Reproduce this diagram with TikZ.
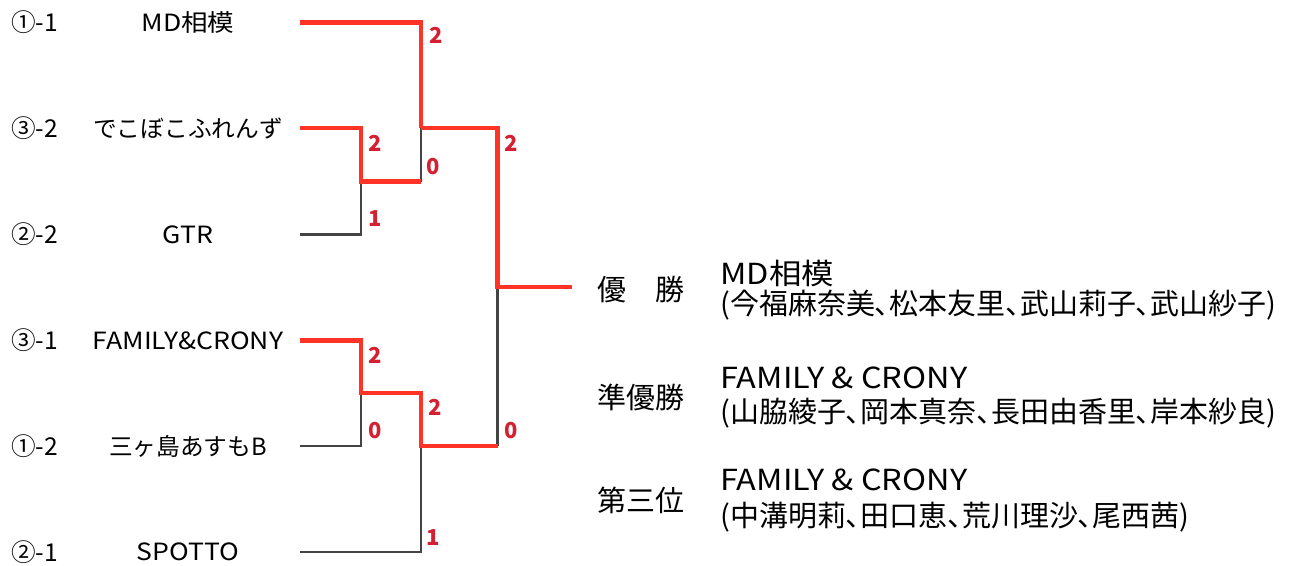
\documentclass[tikz,border=0pt]{standalone}
\usepackage{fontspec}
\setmainfont{Noto Sans CJK JP}
\newfontfamily\paltfont[RawFeature=+palt]{Noto Sans CJK JP}
\newfontfamily\widefont[FakeStretch=1.12]{Noto Sans CJK JP}
\usetikzlibrary{positioning, calc}

\definecolor{winred}{HTML}{FF3326}
\definecolor{losegray}{HTML}{444444}
\definecolor{scorered}{HTML}{D42030}

\begin{document}
\begin{tikzpicture}[x=0.02cm, y=-0.02cm, every node/.style={inner sep=0pt}]

                    \useasboundingbox (0, 0) rectangle (1300, 565);
                    \tikzset{
                        seed/.style={anchor=west, font=\fontsize{14}{16}\selectfont},
                        team/.style={font=\widefont\fontsize{13.5}{16}\selectfont},
                        teamjp/.style={font=\fontsize{13.5}{16}\selectfont},
                        win/.style={draw=winred, line width=2.5pt},
                        lose/.style={draw=losegray, line width=1.15pt},
                        score/.style={text=scorered, font=\bfseries\fontsize{12.5}{14}\selectfont},
                        prize/.style={font=\fontsize{16.5}{20}\selectfont},
                        result/.style={anchor=west, font=\paltfont\fontsize{16.5}{20}\selectfont},
                        latin/.style={anchor=west, font=\widefont\fontsize{16.5}{20}\selectfont}
                    }

                    % entries
                    \node [seed] (S1) at (11, 22.5) {①-1};
                    \node [team] (T1) at (188, 22.5) {MD相模};
                    \node [seed] (S2) at (11, 128) {③-2};
                    \node [teamjp] (T2) at (188, 128) {でこぼこふれんず};
                    \node [seed] (S3) at (11, 234.5) {②-2};
                    \node [team] (T3) at (188, 234.5) {GTR};
                    \node [seed] (S4) at (11, 340.5) {③-1};
                    \node [team] (T4) at (188, 340.5) {FAMILY\&CRONY};
                    \node [seed] (S5) at (11, 446) {①-2};
                    \node [teamjp] (T5) at (188, 446) {三ヶ島あすもB};
                    \node [seed] (S6) at (11, 552) {②-1};
                    \node [team] (T6) at (188, 552) {SPOTTO};

                    \coordinate (E1) at (300, 22.5);
                    \coordinate (E2) at (300, 128);
                    \coordinate (E3) at (300, 234.5);
                    \coordinate (E4) at (300, 340.5);
                    \coordinate (E5) at (300, 446);
                    \coordinate (E6) at (300, 552);

                    % joins
                    \coordinate (R1a) at (361, 181.5);
                    \coordinate (Q1) at (421, 181.5);
                    \coordinate (R2a) at (421, 128);
                    \coordinate (R1b) at (361, 393);
                    \coordinate (Q2) at (421, 393);
                    \coordinate (R2b) at (421, 446);
                    \coordinate (G) at (497.5, 446);
                    \coordinate (F) at (497.5, 287);
                    \coordinate (W) at (572, 287);

                    \draw [lose] (E3) -| (R1a);
                    \draw [lose] (Q1) -- (R2a);
                    \draw [lose] (E5) -| (R1b);
                    \draw [lose] (E6) -| (R2b);
                    \draw [lose] (G) -- (F);

                    \draw [win] (E1) -| (R2a);
                    \draw [win] (E2) -| (R1a) -- (Q1);
                    \draw [win] (R2a) -| (F) -- (W);
                    \draw [win] (E4) -| (R1b) -- (Q2) -- (R2b) -- (G);

                    % scores
                    \node [score] (n1) at (436, 35) {2};
                    \node [score] (n2) at (375, 143) {2};
                    \node [score] (n3) at (433.5, 167) {0};
                    \node [score] (n4) at (375, 219) {1};
                    \node [score] (n5) at (511, 143) {2};
                    \node [score] (n6) at (375, 355) {2};
                    \node [score] (n7) at (435.5, 407) {2};
                    \node [score] (n8) at (511, 431) {0};
                    \node [score] (n9) at (375, 431) {0};
                    \node [score] (n10) at (433.5, 538) {1};

                    % results
                    \node [prize] (P1) at (641, 290) {優\hspace{1em}勝};
                    \node [latin] (A1) at (720, 273) {MD相模};
                    \node [result] (A2) at (720, 305) {(今福麻奈美、松本友里、武山莉子、武山紗子)};
                    \node [prize] (P2) at (641, 397) {準優勝};
                    \node [latin] (B1) at (720, 378) {FAMILY \& CRONY};
                    \node [result] (B2) at (720, 413) {(山脇綾子、岡本真奈、長田由香里、岸本紗良)};
                    \node [prize] (P3) at (641, 500) {第三位};
                    \node [latin] (C1) at (720, 480) {FAMILY \& CRONY};
                    \node [result] (C2) at (720, 517) {(中溝明莉、田口恵、荒川理沙、尾西茜)};
                \end{tikzpicture}
\end{document}
